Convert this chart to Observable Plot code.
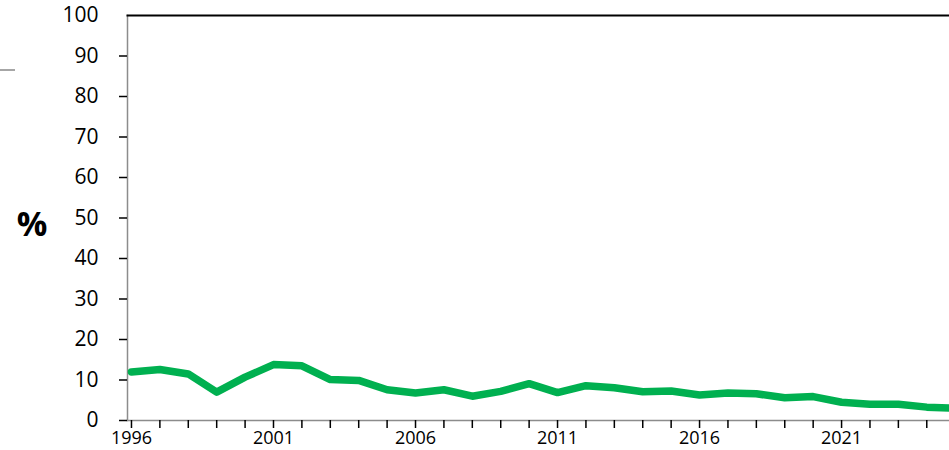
<!DOCTYPE html>
<html>
<head>
<meta charset="utf-8">
<script src="https://cdn.jsdelivr.net/npm/d3@7"></script>
<script src="https://cdn.jsdelivr.net/npm/@observablehq/plot@0.6"></script>
<style>
  body { margin: 0; background: #fff; }
  #wrap { position: relative; width: 949px; height: 450px; }
  #stub { position: absolute; left: 0; top: 69px; width: 15px; height: 1.5px; background: #a6a6a6; }
</style>
</head>
<body>
<div id="wrap"><div id="stub"></div></div>
<script>
const years = [1996,1997,1998,1999,2000,2001,2002,2003,2004,2005,2006,2007,2008,2009,2010,2011,2012,2013,2014,2015,2016,2017,2018,2019,2020,2021,2022,2023,2024,2025];
const values = [12.0,12.6,11.5,7.0,10.7,13.8,13.5,10.1,9.9,7.6,6.8,7.6,6.0,7.2,9.1,6.9,8.6,8.1,7.1,7.3,6.3,6.8,6.6,5.6,5.9,4.5,4.0,4.0,3.3,3.0];
const yTicks = [0,10,20,30,40,50,60,70,80,90,100];
const xTickYears = d3.range(1996, 2025);
const labelEvery = 5;
const yAxisTitle = "%";

const data = years.map((y, i) => ({year: y, value: values[i]}));

const chart = Plot.plot({
  width: 949,
  height: 450,
  marginLeft: 127,
  marginRight: 0,
  marginTop: 15,
  marginBottom: 30,
  style: {fontFamily: "'Open Sans', sans-serif", color: "#000", background: "#fff"},
  x: {domain: [1995.86, 2024.8], label: null},
  y: {domain: [0, 100], label: null},
  marks: [
    Plot.frame({anchor: "left", stroke: "#8c8c8c", strokeWidth: 1.5}),
    Plot.frame({anchor: "bottom", stroke: "#8c8c8c", strokeWidth: 1.5}),
    Plot.frame({anchor: "top", stroke: "#000", strokeWidth: 2}),
    Plot.axisY(yTicks.filter(d => d < 100), {tickSize: 8, tickFormat: () => "", stroke: "#000", strokeWidth: 1.5, label: null}),
    Plot.axisY(yTicks, {tickSize: 0, tickPadding: 29, fontSize: 21, fill: "#000", label: null}),
    Plot.axisX(xTickYears, {tickSize: 8, tickPadding: 3, fontSize: 18, fill: "#000", stroke: "#000", strokeWidth: 1.5, label: null,
      tickFormat: d => (d - 1996) % labelEvery === 0 ? String(d) : ""}),
    Plot.line(data, {x: "year", y: "value", stroke: "#00b050", strokeWidth: 7.5, strokeLinejoin: "round", clip: true}),
    Plot.text([yAxisTitle], {frameAnchor: "left", dx: -80, dy: 7, textAnchor: "end", fontSize: 34, fontWeight: "bold", fill: "#000"})
  ]
});
document.getElementById("wrap").appendChild(chart);
</script>
</body>
</html>
